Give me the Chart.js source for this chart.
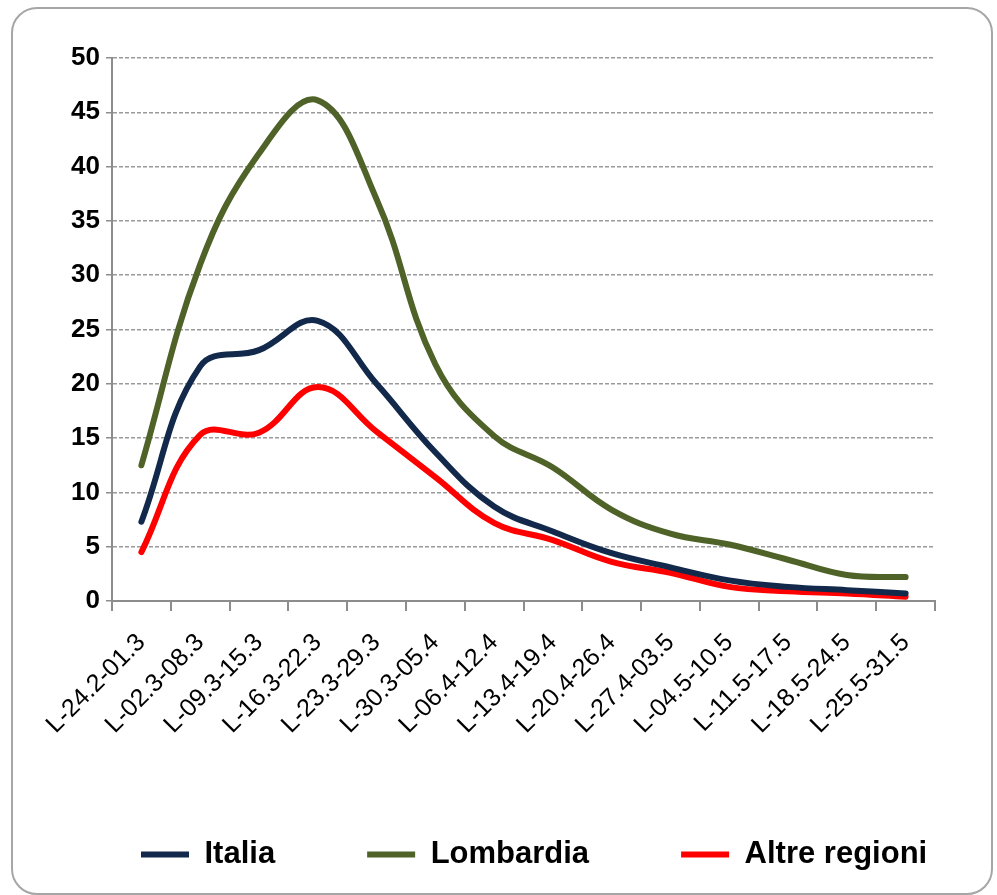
<!DOCTYPE html>
<html>
<head>
<meta charset="utf-8">
<script src="https://cdn.jsdelivr.net/npm/chart.js@4/dist/chart.umd.min.js"></script>
<style>
  html, body { margin: 0; padding: 0; background: #ffffff; }
  #frame { position: absolute; left: 11px; top: 7px; width: 978px; height: 884px;
           border: 2px solid #a6a6a6; border-radius: 26px; }
  #wrap { position: absolute; left: 0; top: 0; width: 997px; height: 895px; }
</style>
</head>
<body>
<div id="frame"></div>
<div id="wrap"><canvas id="c" width="997" height="895"></canvas></div>
<script>
// ---- data ----
const categories = ["L-24.2-01.3","L-02.3-08.3","L-09.3-15.3","L-16.3-22.3","L-23.3-29.3","L-30.3-05.4","L-06.4-12.4","L-13.4-19.4","L-20.4-26.4","L-27.4-03.5","L-04.5-10.5","L-11.5-17.5","L-18.5-24.5","L-25.5-31.5"];
const italia      = [7.3, 21.6, 23.1, 25.8, 20.0, 13.7, 8.7, 6.4, 4.4, 3.1, 1.9, 1.3, 1.0, 0.7];
const lombardia   = [12.5, 31.0, 41.2, 46.1, 37.0, 21.8, 15.2, 12.3, 8.4, 6.2, 5.2, 3.8, 2.4, 2.2];
const altre       = [4.5, 15.3, 15.5, 19.7, 15.6, 11.4, 7.2, 5.6, 3.6, 2.6, 1.3, 0.9, 0.7, 0.4];
const seriesNames = ["Italia", "Lombardia", "Altre regioni"];
const yTicks = [0, 5, 10, 15, 20, 25, 30, 35, 40, 45, 50];

const colors = ["#13294b", "#4f6228", "#ff0000"];
const seriesData = [italia, lombardia, altre];

const legendFix = {
  id: 'legendFix',
  beforeLayout(chart) {
    const lg = chart.legend;
    if (lg && !lg._fx) {
      const f = lg.fit.bind(lg);
      lg.fit = function () {
        const mw = this.maxWidth;
        this.maxWidth = 3000;
        f();
        this.maxWidth = mw;
        this.width = mw;
        this.height = 148;
      };
      lg._fx = true;
    }
  },
  afterLayout(chart) {
    if (chart.legend) chart.legend.right = 3000;
  }
};

new Chart(document.getElementById('c'), {
  type: 'line',
  data: {
    labels: categories,
    datasets: seriesNames.map((n, i) => ({
      label: n,
      data: seriesData[i],
      borderColor: colors[i],
      backgroundColor: colors[i],
      borderWidth: 6,
      borderCapStyle: 'round',
      borderJoinStyle: 'round',
      pointRadius: 0,
      pointHoverRadius: 0,
      tension: 0.4,
      fill: false
    }))
  },
  options: {
    responsive: false,
    animation: false,
    devicePixelRatio: 1,
    layout: { padding: { left: 49, top: 58, right: 0, bottom: 0 } },
    plugins: {
      tooltip: { enabled: false },
      title: { display: false },
      legend: {
        position: 'bottom',
        align: 'start',
        labels: {
          usePointStyle: true,
          pointStyle: 'line',
          pointStyleWidth: 48,
          padding: 92,
          color: '#000000',
          font: { family: 'Liberation Sans', size: 31, weight: 'bold' }
        }
      }
    },
    scales: {
      x: {
        offset: true,
        afterFit(scale) { scale.height = 146; },
        grid: { offset: true, drawOnChartArea: false, drawTicks: true, tickLength: 10, color: '#8c8c8c', tickColor: '#8c8c8c', lineWidth: 2 },
        border: { display: true, color: '#8c8c8c', width: 2 },
        ticks: {
          autoSkip: false, minRotation: 45, maxRotation: 45, padding: 17,
          color: '#000000',
          font: { family: 'Liberation Sans', size: 25 }
        }
      },
      y: {
        min: 0, max: 50,
        afterFit(scale) { scale.width = 63; },
        afterBuildTicks(scale) { scale.ticks = yTicks.map(v => ({ value: v })); },
        grid: { drawTicks: true, tickLength: 6, color: '#9a9a9a', lineWidth: 1.5, tickColor: '#8c8c8c', tickWidth: 1.5, tickBorderDash: [] },
        border: { display: true, color: '#8c8c8c', width: 2, dash: [4, 2] },
        ticks: {
          padding: 6,
          color: '#000000',
          font: { family: 'Liberation Sans', size: 26, weight: 'bold' }
        }
      },
      spacer: {
        type: 'linear',
        position: 'right',
        afterFit(scale) { scale.width = 62; },
        grid: { display: false, drawTicks: false },
        border: { display: false },
        ticks: { display: false }
      }
    }
  },
  plugins: [legendFix]
});
</script>
</body>
</html>
